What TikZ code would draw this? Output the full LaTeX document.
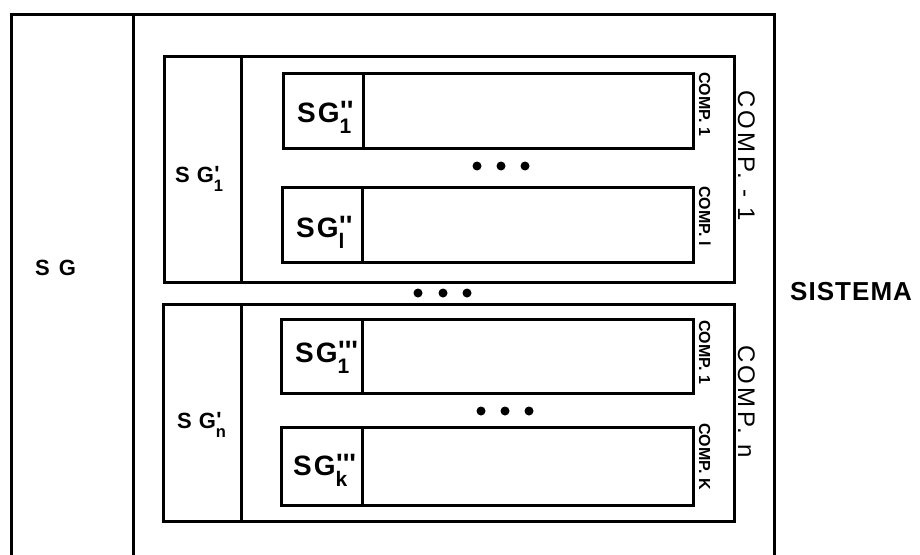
\documentclass[tikz,border=0pt]{standalone}
\usepackage{fontspec}
\usepackage{graphicx}
\setmainfont{Liberation Sans}
\newcommand\pr{\textquotesingle}
\newcommand\supsubx[2]{\makebox[0pt][l]{\hspace{0.5pt}\raisebox{0.04em}{#1}}\raisebox{-0.42em}{\scalebox{0.75}{#2}}}
\begin{document}
\begin{tikzpicture}[x=1pt,y=-1pt,
  cell/.style={draw, line width=2.8pt, inner sep=0pt, anchor=north west},
  dotm/.style={circle, fill, inner sep=0pt, minimum size=9pt},
  sgbig/.style={font=\fontsize{28}{30}\selectfont\bfseries, anchor=base west, inner sep=0pt},
  sgmid/.style={font=\fontsize{22}{24}\selectfont\bfseries, anchor=base west, inner sep=0pt},
  compsmall/.style={font=\fontsize{16}{18}\selectfont\bfseries, rotate=-90, anchor=base west, inner sep=0pt},
  compbig/.style={font=\fontsize{24}{26}\selectfont\addfontfeature{LetterSpace=14}, rotate=-90, anchor=base west, inner sep=0pt}
]
\useasboundingbox (0,0) rectangle (920,554);
% outer system
\node[cell, minimum width=122pt, minimum height=560pt] (sgcell) at (10,13) {};
\node[cell, minimum width=641pt, minimum height=560pt] (main) at (132,13) {};
\node[sgmid] (sg) at (35,275) {S\hspace{9pt}G};
\node[font=\fontsize{26}{28}\selectfont\bfseries\addfontfeature{LetterSpace=4}, anchor=base west, inner sep=0pt] (sist) at (790,300) {SISTEMA};
% group 1
\node[cell, minimum width=77pt, minimum height=226pt] (g1l) at (163,55) {};
\node[cell, minimum width=493pt, minimum height=226pt] (g1) at (240,55) {};
\node[sgmid] (sg1) at (175,182) {S\hspace{7pt}G\supsubx{\pr}{1}};
\node[cell, minimum width=80pt, minimum height=75pt] (a1l) at (282,72) {};
\node[cell, minimum width=330pt, minimum height=75pt] (a1) at (362,72) {};
\node[sgbig] (ta1) at (297,122) {S\hspace{2pt}G\supsubx{\pr\pr}{1}};
\node[cell, minimum width=80pt, minimum height=75pt] (a2l) at (281,186) {};
\node[cell, minimum width=331pt, minimum height=75pt] (a2) at (361,186) {};
\node[sgbig] (ta2) at (296,237) {S\hspace{2pt}G\supsubx{\pr\pr}{l}};
\node[compsmall] (ca1) at (699,72) {COMP. 1};
\node[compsmall] (ca2) at (699,186) {COMP. l};
\node[compbig] (cg1) at (738,90) {COMP. - 1};
\node[dotm] (d1) at (477,166) {};
\node[dotm] (d2) at (501,166) {};
\node[dotm] (d3) at (525,166) {};
% middle dots
\node[dotm] (m1) at (418,293) {};
\node[dotm] (m2) at (443,293) {};
\node[dotm] (m3) at (467,293) {};
% group n
\node[cell, minimum width=78pt, minimum height=217pt] (g2l) at (162,303) {};
\node[cell, minimum width=493pt, minimum height=217pt] (g2) at (240,303) {};
\node[sgmid] (sgn) at (177,428) {S\hspace{7pt}G\supsubx{\pr}{n}};
\node[cell, minimum width=81pt, minimum height=74pt] (b1l) at (280,318) {};
\node[cell, minimum width=331pt, minimum height=74pt] (b1) at (361,318) {};
\node[sgbig] (tb1) at (295,362) {S\hspace{2pt}G\supsubx{\pr\pr\pr}{1}};
\node[cell, minimum width=81pt, minimum height=78pt] (b2l) at (280,426) {};
\node[cell, minimum width=331pt, minimum height=78pt] (b2) at (361,426) {};
\node[sgbig] (tb2) at (293,475) {S\hspace{2pt}G\supsubx{\pr\pr\pr}{k}};
\node[compsmall] (cb1) at (699,320) {COMP. 1};
\node[compsmall] (cb2) at (699,423) {COMP. K};
\node[compbig] (cg2) at (738,345) {COMP. n};
\node[dotm] (e1) at (481,411) {};
\node[dotm] (e2) at (505,411) {};
\node[dotm] (e3) at (529,411) {};
\end{tikzpicture}
\end{document}
